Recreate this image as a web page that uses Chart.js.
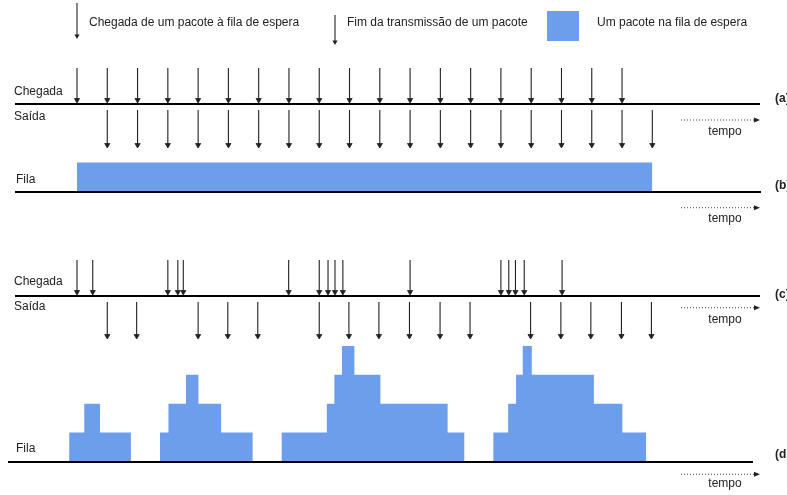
<!DOCTYPE html>
<html><head><meta charset="utf-8">
<script src="https://cdn.jsdelivr.net/npm/chart.js@4/dist/chart.umd.min.js"></script>
<style>html,body{margin:0;padding:0;background:#fff}#wrap{width:787px;height:495px;position:relative}</style>
</head><body><div id="wrap"><canvas id="c"></canvas></div>
<script>
// ---- DATA (time measured in packet transmission times) ----
const arrivalsA   = [0,1,2,3,4,5,6,7,8,9,10,11,12,13,14,15,16,17,18];
const departuresA = [1,2,3,4,5,6,7,8,9,10,11,12,13,14,15,16,17,18,19];
const queueBTimes  = [0, 19];
const queueBLevels = [1, 0];
const arrivalsC   = [0, 0.52, 3.0, 3.33, 3.51, 6.99, 8.0, 8.29, 8.52, 8.78, 11.0, 14.0, 14.26, 14.48, 14.77, 16.02];
const departuresC = [1, 1.97, 4, 4.98, 5.97, 8.0, 8.98, 9.97, 10.98, 11.99, 12.98, 14.98, 15.98, 16.97, 17.98, 18.97];
const queueDTimes  = [-0.26,0.24,0.76,1.78, 2.74,3.02,3.60,4.01,4.76,5.80, 6.76,8.25,8.50,8.75,9.16,10.02,12.24,12.79, 13.75,14.24,14.50,14.72,15.02,17.07,18.01,18.80];
const queueDLevels = [1,2,1,0, 1,2,3,2,1,0, 1,2,3,4,3,2,1,0, 1,2,3,4,3,2,1,0];

// ---- TEXTS ----
const legendTexts = ["Chegada de um pacote à fila de espera", "Fim da transmissão de um pacote", "Um pacote na fila de espera"];
const rowLabelArr = "Chegada", rowLabelDep = "Saída", rowLabelQueue = "Fila";
const panelLabels = ["(a)", "(b)", "(c)", "(d"];
const timeLabel = "tempo";

// ---- LAYOUT (pixels) ----
const X0 = 77, UNIT = 30.28, W = 787, H = 495;
const LA = {arrTop:68, arrTip:103, depTop:110, depTip:148, base:104};
const LB = {base:192.5, levelH:30};
const LC = {arrTop:260, arrTip:295, depTop:302, depTip:339, base:296};
const LD = {base:461.5, levelH:28.9};
const BLUE = '#6d9eeb', INK = '#222';
const AH = 3; // arrowhead radius

function arrowLines(times, top, tip){
  const d=[]; times.forEach(t=>{d.push({x:t,y:top},{x:t,y:tip-1},{x:t,y:null});}); return d;
}
function arrowHeads(times, tip){ return times.map(t=>({x:t,y:tip-AH})); }
function steps(times, levels, L){ return times.map((t,i)=>({x:t,y:L.base-levels[i]*L.levelH})); }

const lineDS = (data)=>({type:'line',data,borderColor:INK,borderWidth:1.1,pointRadius:0,spanGaps:false,fill:false});
const headDS = (data)=>({type:'scatter',data,pointStyle:'triangle',rotation:180,pointRadius:AH,backgroundColor:INK,borderColor:INK,borderWidth:0.8,showLine:false});
const queueDS = (data,L)=>({type:'line',data,stepped:'before',borderWidth:0,borderColor:BLUE,backgroundColor:BLUE,pointRadius:0,fill:{value:L.base}});

const deco = {
  id:'deco',
  afterDatasetsDraw(chart){
    const ctx = chart.ctx;
    ctx.save();
    // baselines
    ctx.strokeStyle = '#000'; ctx.lineWidth = 2;
    [[15,760,LA.base],[15,761,192],[15,760,LC.base],[8,753,462]].forEach(([a,b,y])=>{
      ctx.beginPath(); ctx.moveTo(a,y); ctx.lineTo(b,y); ctx.stroke();
    });
    // dotted time arrows
    [[120,132],[207.7,219],[307.7,320],[474.3,484]].forEach(([y,ty])=>{
      ctx.strokeStyle='#444'; ctx.lineWidth=1; ctx.setLineDash([1,2]);
      ctx.beginPath(); ctx.moveTo(681,y); ctx.lineTo(756,y); ctx.stroke();
      ctx.setLineDash([]);
      ctx.fillStyle='#222'; ctx.beginPath(); ctx.moveTo(760,y); ctx.lineTo(754,y-2.5); ctx.lineTo(754,y+2.5); ctx.closePath(); ctx.fill();
      ctx.font='12px "Liberation Sans", Arial, sans-serif'; ctx.textAlign='center'; ctx.textBaseline='middle';
      ctx.fillText(timeLabel, 725, ty);
    });
    // row labels
    ctx.fillStyle='#222'; ctx.textAlign='left'; ctx.textBaseline='middle';
    ctx.font='12px "Liberation Sans", Arial, sans-serif';
    ctx.fillText(rowLabelArr, 14, 92); ctx.fillText(rowLabelDep, 14, 117);
    ctx.fillText(rowLabelQueue, 16, 180);
    ctx.fillText(rowLabelArr, 14, 282); ctx.fillText(rowLabelDep, 14, 307);
    ctx.fillText(rowLabelQueue, 16, 449);
    ctx.font='bold 12px "Liberation Sans", Arial, sans-serif';
    [[99],[186],[295],[455]].forEach(([y],i)=>ctx.fillText(panelLabels[i], 775, y));
    // legend
    ctx.font='12px "Liberation Sans", Arial, sans-serif';
    const legArrow=(x,y1,y2)=>{
      ctx.strokeStyle=INK; ctx.lineWidth=1.1; ctx.beginPath(); ctx.moveTo(x,y1); ctx.lineTo(x,y2-2); ctx.stroke();
      ctx.fillStyle=INK; ctx.beginPath(); ctx.moveTo(x,y2); ctx.lineTo(x-2.6,y2-4.5); ctx.lineTo(x+2.6,y2-4.5); ctx.closePath(); ctx.fill();
    };
    legArrow(77,3,39); legArrow(335,15,45);
    ctx.fillStyle=BLUE; ctx.fillRect(547,11,32,30);
    ctx.fillStyle='#222';
    ctx.fillText(legendTexts[0], 89, 23);
    ctx.fillText(legendTexts[1], 347, 23);
    ctx.fillText(legendTexts[2], 597, 23);
    ctx.restore();
  }
};

new Chart(document.getElementById('c'), {
  data:{datasets:[
    queueDS(steps(queueBTimes, queueBLevels, LB), LB),
    queueDS(steps(queueDTimes, queueDLevels, LD), LD),
    lineDS(arrowLines(arrivalsA, LA.arrTop, LA.arrTip)),
    lineDS(arrowLines(departuresA, LA.depTop, LA.depTip)),
    lineDS(arrowLines(arrivalsC, LC.arrTop, LC.arrTip)),
    lineDS(arrowLines(departuresC, LC.depTop, LC.depTip)),
    headDS(arrowHeads(arrivalsA, LA.arrTip)),
    headDS(arrowHeads(departuresA, LA.depTip)),
    headDS(arrowHeads(arrivalsC, LC.arrTip)),
    headDS(arrowHeads(departuresC, LC.depTip))
  ]},
  options:{
    responsive:true, maintainAspectRatio:false, animation:false,
    layout:{padding:0, autoPadding:false},
    scales:{
      x:{type:'linear', display:false, min:-X0/UNIT, max:(W-X0)/UNIT},
      y:{type:'linear', display:false, reverse:true, min:0, max:H}
    },
    plugins:{legend:{display:false}, tooltip:{enabled:false}},
    events:[]
  },
  plugins:[deco]
});
</script></body></html>
